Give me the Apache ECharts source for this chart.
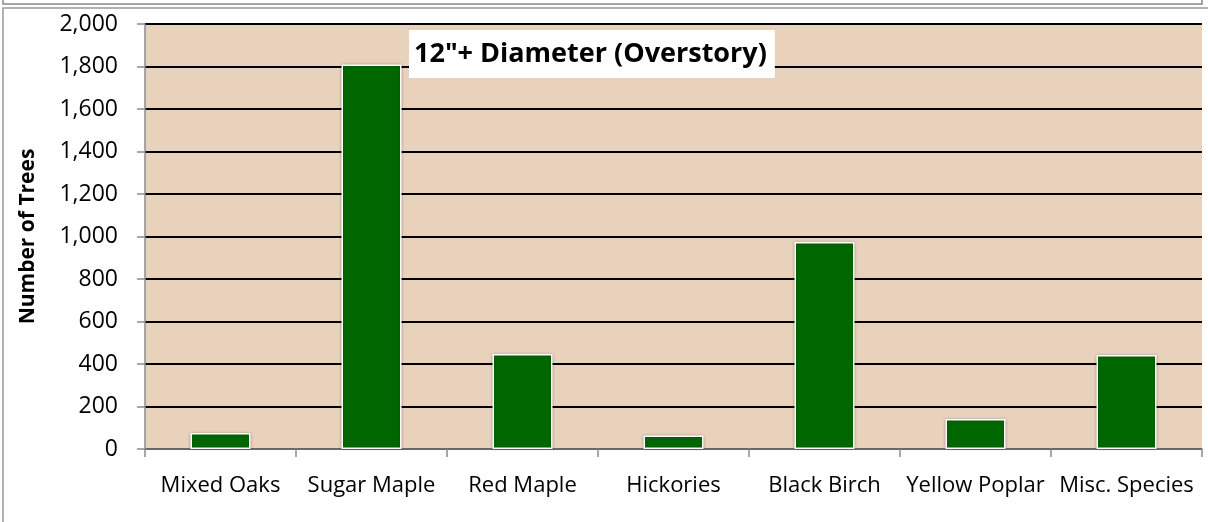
<!DOCTYPE html>
<html>
<head>
<meta charset="utf-8">
<script src="https://cdn.jsdelivr.net/npm/echarts@6/dist/echarts.min.js"></script>
<style>
  html, body { margin: 0; padding: 0; background: #fff; }
  #chart { width: 1208px; height: 522px; }
</style>
</head>
<body>
<div id="chart"></div>
<script>
const categories = ['Mixed Oaks', 'Sugar Maple', 'Red Maple', 'Hickories', 'Black Birch', 'Yellow Poplar', 'Misc. Species']
const treeCounts = [75, 1810, 447, 64, 974, 141, 442]
const chartTitle = '12"+ Diameter (Overstory)'
const yAxisName = 'Number of Trees'

const fontFamily = '"Open Sans", "Noto Sans", sans-serif'
const myChart = echarts.init(document.getElementById('chart'))

const option = {
  animation: false,
  textStyle: { fontFamily: fontFamily },
  title: {
    text: chartTitle,
    left: 409,
    top: 30,
    backgroundColor: '#fff',
    padding: [7, 8, 7, 5],
    textStyle: { fontSize: 27, fontWeight: 'bold', color: '#000', fontFamily: fontFamily, lineHeight: 34 }
  },
  graphic: [
    // frame of the box above, and this chart's own frame
    { type: 'rect', shape: { x: 3, y: -10, width: 1199, height: 14 }, style: { fill: 'none', stroke: '#888', lineWidth: 1.5 } },
    { type: 'rect', shape: { x: 3, y: 8, width: 1220, height: 530 }, style: { fill: 'none', stroke: '#999', lineWidth: 1.5 } }
  ],
  grid: {
    left: 145,
    top: 24,
    right: 6,
    bottom: 73,
    show: true,
    backgroundColor: '#E9D2BB',
    borderWidth: 0
  },
  xAxis: {
    type: 'category',
    data: categories,
    axisLine: { lineStyle: { color: '#8c8c8c', width: 1.5 } },
    axisTick: { show: true, length: 8, alignWithLabel: false, lineStyle: { color: '#8c8c8c', width: 1.5 } },
    axisLabel: { color: '#000', fontSize: 22, margin: 26, interval: 0 }
  },
  yAxis: {
    type: 'value',
    min: 0,
    max: 2000,
    interval: 200,
    name: yAxisName,
    nameLocation: 'middle',
    nameGap: 106,
    nameTextStyle: { fontSize: 21, fontWeight: 'bold', color: '#000' },
    axisLine: { show: true, lineStyle: { color: '#8c8c8c', width: 1.5 } },
    axisTick: { show: true, length: 8, lineStyle: { color: '#8c8c8c', width: 1.5 } },
    axisLabel: {
      color: '#000',
      fontSize: 23,
      margin: 27,
      formatter: function (v) { return v.toLocaleString('en-US') }
    },
    splitLine: { lineStyle: { color: '#000', width: 2 } }
  },
  series: [
    {
      type: 'bar',
      data: treeCounts,
      barWidth: 60,
      itemStyle: {
        color: '#006600',
        borderColor: '#fff',
        borderWidth: 1.5,
        shadowColor: 'rgba(0,0,0,0.25)',
        shadowBlur: 3
      }
    }
  ]
}

myChart.setOption(option)
</script>
</body>
</html>
